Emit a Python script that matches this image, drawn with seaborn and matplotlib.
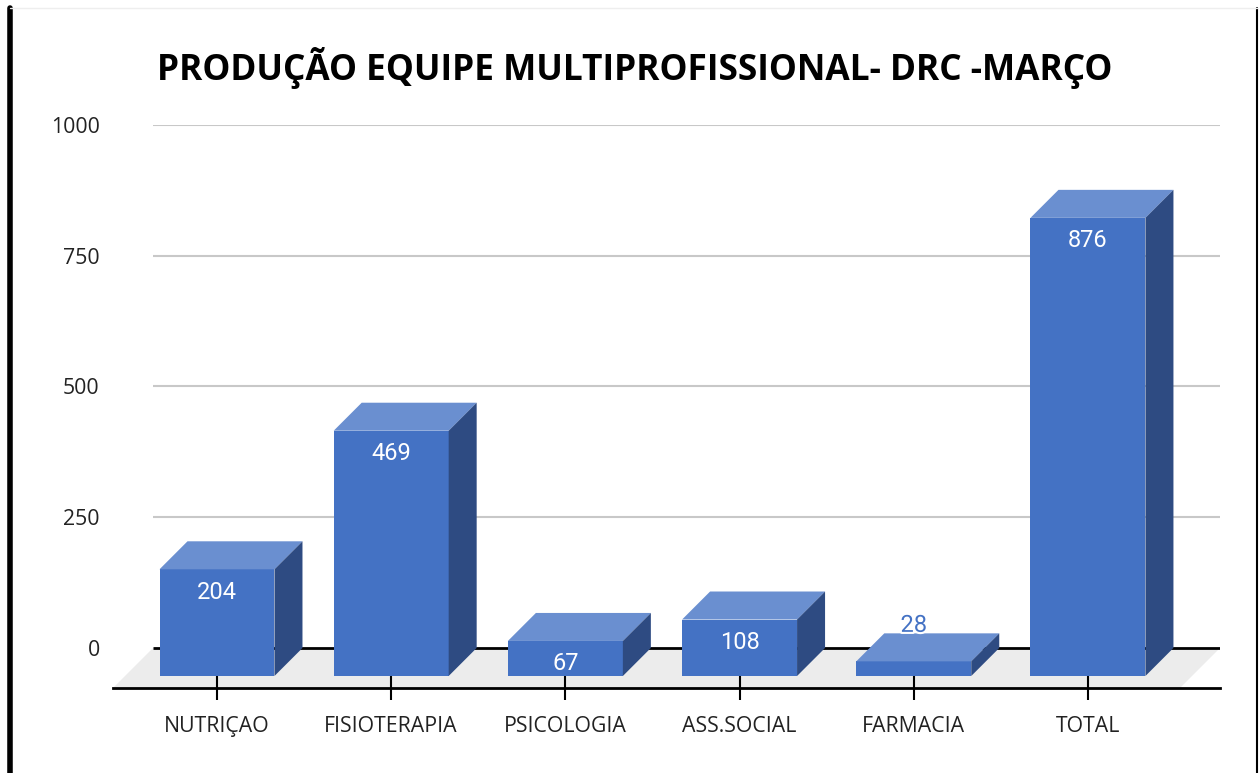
"""Produção equipe multiprofissional - DRC - março (3D-style bar chart)."""

import matplotlib.pyplot as plt
import seaborn as sns
from matplotlib.lines import Line2D
from matplotlib.patches import Polygon
import matplotlib.patheffects as pe

categories = ["NUTRIÇAO", "FISIOTERAPIA", "PSICOLOGIA", "ASS.SOCIAL", "FARMACIA", "TOTAL"]
values = [204, 469, 67, 108, 28, 876]
y_ticks = [0, 250, 500, 750, 1000]

FRONT = "#4472C4"
TOP = "#6A8FD0"
SIDE = "#2E4B82"
FLOOR = "#ECECEC"
GRID = "#C8C8C8"

W, H, DPI = 1259, 773, 100
BAR_DEPTH = 28    # px, depth of each box
FLOOR_DEPTH = 40  # px, depth of the floor

sns.set_theme(style="white")
plt.rcParams["font.family"] = ["Open Sans", "DejaVu Sans"]

fig = plt.figure(figsize=(W / DPI, H / DPI), dpi=DPI)
ax = fig.add_axes([113 / W, 1 - 688 / H, (1220 - 113) / W, (688 - 125) / H])

sns.barplot(x=categories, y=values, color=FRONT, width=0.66, saturation=1,
            linewidth=0, ax=ax, zorder=3)
ax.set_xlim(-0.597, 5.758)
ax.set_ylim(-76.5, 1000)

# pixel -> data scales
x_per_px = (ax.get_xlim()[1] - ax.get_xlim()[0]) / (ax.bbox.width)
y_per_px = (ax.get_ylim()[1] - ax.get_ylim()[0]) / (ax.bbox.height)
bdx, bdy = BAR_DEPTH * x_per_px, BAR_DEPTH * y_per_px
fdx = FLOOR_DEPTH * x_per_px
x0, x1 = ax.get_xlim()
y0 = ax.get_ylim()[0]

# floor and back wall gridlines
ax.add_patch(Polygon([(x0, y0), (x1 - fdx, y0), (x1, 0), (x0 + fdx, 0)],
                     closed=True, facecolor=FLOOR, edgecolor="none", zorder=0))
ax.hlines([t for t in y_ticks if t > 0], x0 + fdx, x1, color=GRID, lw=1.5, zorder=1)
ax.hlines(0, x0 + fdx, x1, color="black", lw=2, zorder=1)

# boxes: shift front faces down, add top and side faces
for patch, v in zip(ax.patches, values):
    patch.set_y(patch.get_y() - bdy)
    bx0 = patch.get_x()
    bx1 = bx0 + patch.get_width()
    top = v - bdy
    ax.add_patch(Polygon([(bx0, top), (bx1, top), (bx1 + bdx, v), (bx0 + bdx, v)],
                         closed=True, facecolor=TOP, edgecolor="none", zorder=3))
    ax.add_patch(Polygon([(bx1, top), (bx1 + bdx, v), (bx1 + bdx, 0), (bx1, -bdy)],
                         closed=True, facecolor=SIDE, edgecolor="none", zorder=3))
    cx = bx0 + patch.get_width() / 2
    if v * (1 / y_per_px) > 25:
        ax.text(cx, top - 23 * y_per_px, str(v), ha="center", va="center",
                color="white", fontsize=17, family=["Roboto", "DejaVu Sans"], zorder=5)
    else:
        ax.text(cx, v + 8 * y_per_px, str(v), ha="center", va="center",
                color=FRONT, fontsize=17, family=["Roboto", "DejaVu Sans"], zorder=5,
                path_effects=[pe.withStroke(linewidth=3, foreground="white")])

# axes styling
sns.despine(ax=ax, left=True, top=True, right=True)
ax.spines["bottom"].set_color("black")
ax.spines["bottom"].set_linewidth(2)
ax.spines["bottom"].set_zorder(2)
ax.set_yticks(y_ticks)
ax.set_yticklabels([str(t) for t in y_ticks])
ax.tick_params(axis="y", length=0, pad=9.5, labelsize=15.3, labelcolor="#222222")
ax.tick_params(axis="x", direction="inout", length=17, width=1.5, color="black",
               bottom=True, pad=11.5, labelsize=15.3, labelcolor="#222222")
ax.set_xlabel("")
ax.set_ylabel("")
ax.grid(False)

fig.text(635 / W, 1 - 68 / H, "PRODUÇÃO EQUIPE MULTIPROFISSIONAL- DRC -MARÇO",
         ha="center", va="center", fontsize=25.4, fontweight="bold", color="black")

# frame around the chart
fig.add_artist(Line2D([10.5 / W, 10.5 / W], [0, 1 - 8 / H], transform=fig.transFigure,
                      color="black", lw=4))
fig.add_artist(Line2D([1257 / W, 1257 / W], [0, 1 - 8 / H], transform=fig.transFigure,
                      color="black", lw=1.5))
fig.add_artist(Line2D([10 / W, 1257 / W], [1 - 8 / H, 1 - 8 / H], transform=fig.transFigure,
                      color="#EEEEEE", lw=1))

fig.savefig("out.png", dpi=DPI)
